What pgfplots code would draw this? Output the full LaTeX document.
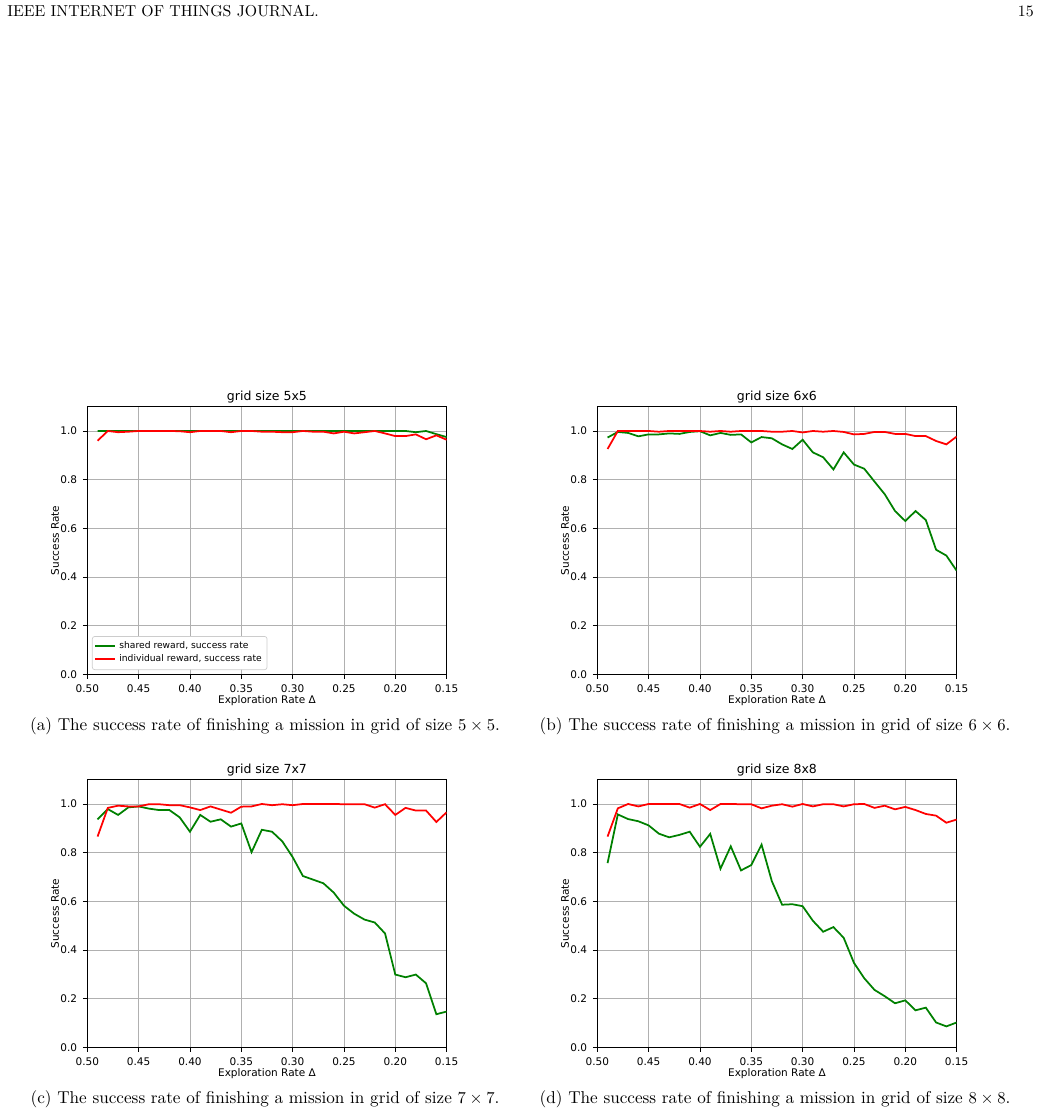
\documentclass[border=0pt]{standalone}
\usepackage{fontspec}
\usepackage{pgfplots}
\usepackage{pgfplotstable}
\pgfplotsset{compat=1.18}
\newfontfamily\dv{DejaVu Sans}
\definecolor{mgreen}{rgb}{0,0.5,0}
\definecolor{mred}{rgb}{1,0,0}
\definecolor{gridc}{HTML}{B0B0B0}

\pgfplotstableread{
x s i
0.49 1.0 0.96
0.48 1.0 1.0
0.47 1.0 0.995
0.46 1.0 0.997
0.45 1.0 1.0
0.44 1.0 1.0
0.43 1.0 1.0
0.42 1.0 1.0
0.41 1.0 0.999
0.40 1.0 0.995
0.39 1.0 1.0
0.38 1.0 1.0
0.37 1.0 1.0
0.36 1.0 0.995
0.35 1.0 1.0
0.34 1.0 1.0
0.33 1.0 0.997
0.32 1.0 0.997
0.31 1.0 0.995
0.30 1.0 0.995
0.29 1.0 1.0
0.28 1.0 0.997
0.27 1.0 0.997
0.26 1.0 0.99
0.25 1.0 0.997
0.24 1.0 0.99
0.23 1.0 0.995
0.22 1.0 1.0
0.21 1.0 0.99
0.20 1.0 0.979
0.19 1.0 0.979
0.18 0.995 0.986
0.17 1.0 0.966
0.16 0.987 0.982
0.15 0.975 0.964
}\tabA

\pgfplotstableread{
x s i
0.49 0.973 0.926
0.48 0.996 1.0
0.47 0.992 1.0
0.46 0.978 1.0
0.45 0.986 1.0
0.44 0.986 0.997
0.43 0.99 1.0
0.42 0.988 1.0
0.41 0.996 1.0
0.40 0.999 1.0
0.39 0.982 0.997
0.38 0.992 1.0
0.37 0.984 0.997
0.36 0.986 1.0
0.35 0.953 1.0
0.34 0.975 1.0
0.33 0.970 0.997
0.32 0.945 0.997
0.31 0.926 1.0
0.30 0.964 0.994
0.29 0.912 1.0
0.28 0.892 0.997
0.27 0.842 1.0
0.26 0.912 0.996
0.25 0.862 0.986
0.24 0.845 0.988
0.23 0.792 0.996
0.22 0.740 0.996
0.21 0.671 0.988
0.20 0.630 0.988
0.19 0.671 0.979
0.18 0.634 0.979
0.17 0.512 0.959
0.16 0.488 0.945
0.15 0.426 0.977
}\tabB

\pgfplotstableread{
x s i
0.49 0.937 0.866
0.48 0.979 0.984
0.47 0.955 0.993
0.46 0.986 0.990
0.45 0.990 0.990
0.44 0.981 0.999
0.43 0.975 0.999
0.42 0.975 0.995
0.41 0.945 0.995
0.40 0.886 0.986
0.39 0.955 0.975
0.38 0.927 0.990
0.37 0.937 0.977
0.36 0.907 0.964
0.35 0.920 0.989
0.34 0.802 0.990
0.33 0.894 1.0
0.32 0.886 0.995
0.31 0.846 0.999
0.30 0.782 0.995
0.29 0.704 1.0
0.28 0.689 1.0
0.27 0.674 1.0
0.26 0.636 1.0
0.25 0.582 0.999
0.24 0.549 0.999
0.23 0.525 0.999
0.22 0.513 0.985
0.21 0.468 0.999
0.20 0.299 0.955
0.19 0.288 0.984
0.18 0.299 0.973
0.17 0.263 0.973
0.16 0.136 0.926
0.15 0.147 0.966
}\tabC

\pgfplotstableread{
x s i
0.49 0.757 0.866
0.48 0.957 0.982
0.47 0.938 1.0
0.46 0.929 0.990
0.45 0.912 1.0
0.44 0.878 1.0
0.43 0.863 1.0
0.42 0.873 1.0
0.41 0.886 0.985
0.40 0.824 1.0
0.39 0.877 0.975
0.38 0.734 1.0
0.37 0.826 1.0
0.36 0.727 0.999
0.35 0.749 0.999
0.34 0.833 0.982
0.33 0.683 0.993
0.32 0.586 0.999
0.31 0.588 0.989
0.30 0.580 1.0
0.29 0.520 0.990
0.28 0.475 0.999
0.27 0.494 0.999
0.26 0.450 0.990
0.25 0.347 0.999
0.24 0.284 1.0
0.23 0.236 0.984
0.22 0.210 0.993
0.21 0.181 0.978
0.20 0.193 0.988
0.19 0.152 0.975
0.18 0.163 0.959
0.17 0.102 0.952
0.16 0.086 0.923
0.15 0.102 0.936
}\tabD

\pgfplotsset{gridplot/.style={
  scale only axis, width=215.6pt, height=160.6pt,
  x dir=reverse, xmin=0.15, xmax=0.50, ymin=0, ymax=1.1,
  xtick={0.15,0.20,0.25,0.30,0.35,0.40,0.45,0.50},
  ytick={0,0.2,0.4,0.6,0.8,1.0},
  xticklabel={\pgfmathprintnumber[fixed,fixed zerofill,precision=2]{\tick}},
  yticklabel={\pgfmathprintnumber[fixed,fixed zerofill,precision=1]{\tick}},
  /pgf/number format/assume math mode=true,
  tick label style={font=\dv\fontsize{6.3}{7}\selectfont},
  every axis title/.style={at={(axis description cs:0.5,1)}, anchor=base, yshift=3.6pt,
    font=\dv\fontsize{7.5}{9}\selectfont},
  xlabel={Exploration Rate Δ}, ylabel={Success Rate},
  every axis x label/.style={at={(axis description cs:0.5,-0.1)}, anchor=center,
    font=\dv\fontsize{6.3}{7}\selectfont},
  every axis y label/.style={at={(axis description cs:-0.09,0.5)}, rotate=90, anchor=center,
    font=\dv\fontsize{6.3}{7}\selectfont},
  grid=major, major grid style={gridc, line width=0.5pt},
  tick align=outside, tick pos=left, major tick length=2.6pt,
  tick style={black, line width=0.5pt},
  axis line style={line width=0.5pt},
  every axis plot/.append style={line width=1.05pt, mark=none},
}}

\begin{document}
\begin{tikzpicture}[x=0.6pt, y=-0.6pt]
\path (0,0) rectangle (1040,1116);
\coordinate (A) at (87.3,674.3);
\coordinate (B) at (597.3,674.3);
\coordinate (C) at (87.3,1047.3);
\coordinate (D) at (597.3,1047.3);

\node[anchor=base west, inner sep=0pt, font=\fontsize{9.5}{11}\selectfont] at (7,16.7) {IEEE INTERNET OF THINGS JOURNAL.};
\node[anchor=base east, inner sep=0pt, font=\fontsize{9.5}{11}\selectfont] at (1034,16.7) {15};

\begin{axis}[gridplot, at={(A)}, anchor=south west, title={grid size 5x5},
  legend style={at={(axis description cs:0.013,0.016)}, anchor=south west,
    font=\dv\fontsize{5.5}{6.5}\selectfont, draw=gray!40, rounded corners=1.5pt,
    fill=white, inner sep=1.2pt, row sep=-1.8pt},
  legend cell align=left,
  legend image code/.code={\draw[#1, line width=1.05pt] (0pt,0.3pt) -- (12pt,0.3pt);}]
\addplot[mgreen] table[x=x, y=s] {\tabA};
\addlegendentry{shared reward, success rate}
\addplot[mred] table[x=x, y=i] {\tabA};
\addlegendentry{individual reward, success rate}
\end{axis}

\begin{axis}[gridplot, at={(B)}, anchor=south west, title={grid size 6x6}]
\addplot[mgreen] table[x=x, y=s] {\tabB};
\addplot[mred] table[x=x, y=i] {\tabB};
\end{axis}

\begin{axis}[gridplot, at={(C)}, anchor=south west, title={grid size 7x7}]
\addplot[mgreen] table[x=x, y=s] {\tabC};
\addplot[mred] table[x=x, y=i] {\tabC};
\end{axis}

\begin{axis}[gridplot, at={(D)}, anchor=south west, title={grid size 8x8}]
\addplot[mgreen] table[x=x, y=s] {\tabD};
\addplot[mred] table[x=x, y=i] {\tabD};
\end{axis}

\node[anchor=base, inner sep=0pt, font=\fontsize{10.3}{12}\selectfont] at (265,730) {(a) The success rate of finishing a mission in grid of size $5\times5$.};
\node[anchor=base, inner sep=0pt, font=\fontsize{10.3}{12}\selectfont] at (775,730) {(b) The success rate of finishing a mission in grid of size $6\times6$.};
\node[anchor=base, inner sep=0pt, font=\fontsize{10.3}{12}\selectfont] at (265,1103) {(c) The success rate of finishing a mission in grid of size $7\times7$.};
\node[anchor=base, inner sep=0pt, font=\fontsize{10.3}{12}\selectfont] at (775,1103) {(d) The success rate of finishing a mission in grid of size $8\times8$.};
\end{tikzpicture}
\end{document}
